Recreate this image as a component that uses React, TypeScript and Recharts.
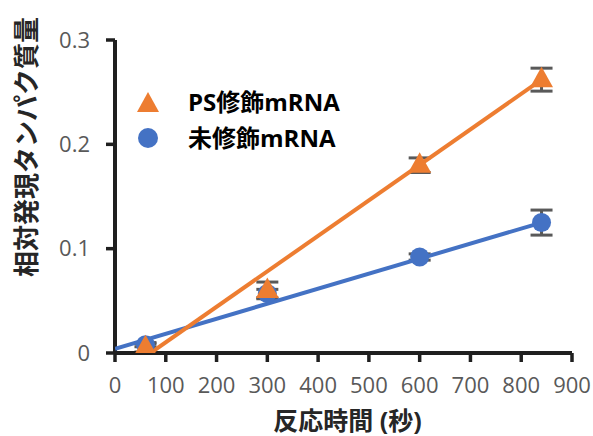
import React from "react";
import { ScatterChart, Scatter, XAxis, YAxis, ErrorBar, Label } from "recharts";

const times = [60, 300, 600, 840];
const psValues = [0.005, 0.06, 0.18, 0.262];
const psErrors = [0.004, 0.008, 0.007, 0.011];
const unmodValues = [0.008, 0.057, 0.092, 0.125];
const unmodErrors = [0.002, 0.004, 0.003, 0.012];
const psTrend = [
  { x: 70, y: 0 },
  { x: 840, y: 0.262 },
];
const unmodTrend = [
  { x: 0, y: 0.004 },
  { x: 840, y: 0.125 },
];
const xTicks = [0, 100, 200, 300, 400, 500, 600, 700, 800, 900];
const yTicks = [0, 0.1, 0.2, 0.3];
const psName = "PS修飾mRNA";
const unmodName = "未修飾mRNA";

const psData = times.map((t, i) => ({ x: t, y: psValues[i], err: psErrors[i] }));
const unmodData = times.map((t, i) => ({ x: t, y: unmodValues[i], err: unmodErrors[i] }));

const ORANGE = "#ED7D31";
const BLUE = "#4472C4";
const AXIS = "#1f1f1f";
const TICK_TEXT = "#595959";
const FONT = "'Open Sans', 'Noto Sans CJK JP', sans-serif";

const Triangle = (props: any) => {
  const { cx, cy } = props;
  if (cx == null || cy == null) return <g />;
  return (
    <polygon
      points={`${cx},${cy - 13} ${cx - 11.5},${cy + 7.5} ${cx + 11.5},${cy + 7.5}`}
      fill={ORANGE}
    />
  );
};

const Dot = (props: any) => {
  const { cx, cy } = props;
  if (cx == null || cy == null) return <g />;
  return <circle cx={cx} cy={cy} r={9.5} fill={BLUE} />;
};

const NoShape = () => <g />;

const LegendBox = () => (
  <div
    style={{
      position: "absolute",
      left: 136,
      top: 84,
      fontFamily: FONT,
      fontWeight: 700,
      fontSize: 24,
      color: "#000",
    }}
  >
    {[
      { name: psName, icon: "tri" },
      { name: unmodName, icon: "circ" },
    ].map((item) => (
      <div key={item.name} style={{ display: "flex", alignItems: "center", height: 36 }}>
        <svg width={24} height={24} style={{ display: "block" }}>
          {item.icon === "tri" ? (
            <polygon points="12,2 1,22 23,22" fill={ORANGE} />
          ) : (
            <circle cx={12} cy={12} r={10} fill={BLUE} />
          )}
        </svg>
        <span style={{ marginLeft: 28, whiteSpace: "nowrap", lineHeight: "36px" }}>{item.name}</span>
      </div>
    ))}
  </div>
);

export default function App() {
  return (
    <div style={{ position: "absolute", left: 0, top: 0, width: 593, height: 436, background: "#fff" }}>
      <ScatterChart
        width={593}
        height={436}
        margin={{ top: 40, right: 21, bottom: 0, left: 0 }}
        style={{ fontFamily: FONT }}
      >
        <XAxis
          type="number"
          dataKey="x"
          domain={[0, 900]}
          ticks={xTicks}
          interval={0}
          height={83}
          tickSize={9}
          tickMargin={15}
          axisLine={{ stroke: AXIS, strokeWidth: 4 }}
          tickLine={{ stroke: AXIS, strokeWidth: 3.5 }}
          tick={{ fill: TICK_TEXT, fontSize: 22, fontFamily: FONT }}
          allowDataOverflow
        >
          <Label
            content={(p: any) => {
              const vb = p.viewBox || {};
              return (
                <text
                  x={(vb.x ?? 115) + (vb.width ?? 457) / 2 + 4}
                  y={420}
                  textAnchor="middle"
                  dominantBaseline="central"
                  fontFamily={FONT}
                  fontWeight={700}
                  fontSize={25}
                  fill="#262626"
                >
                  反応時間 (秒)
                </text>
              );
            }}
          />
        </XAxis>
        <YAxis
          type="number"
          dataKey="y"
          domain={[0, 0.3]}
          ticks={yTicks}
          interval={0}
          width={115}
          tickSize={9}
          tickMargin={16}
          axisLine={{ stroke: AXIS, strokeWidth: 4 }}
          tickLine={{ stroke: AXIS, strokeWidth: 3.5 }}
          tick={{ fill: TICK_TEXT, fontSize: 22, fontFamily: FONT }}
          tickFormatter={(v: number) => (v === 0 ? "0" : String(v))}
          allowDataOverflow
        >
          <Label
            content={() => (
              <text
                x={26}
                y={147}
                textAnchor="middle"
                dominantBaseline="central"
                fontFamily={FONT}
                fontWeight={700}
                fontSize={26}
                fill="#262626"
                transform="rotate(-90 26 147)"
              >
                相対発現タンパク質量
              </text>
            )}
          />
        </YAxis>
        <Scatter
          data={unmodTrend}
          line={{ stroke: BLUE, strokeWidth: 4 }}
          shape={NoShape}
          isAnimationActive={false}
          legendType="none"
        />
        <Scatter
          data={psTrend}
          line={{ stroke: ORANGE, strokeWidth: 4 }}
          shape={NoShape}
          isAnimationActive={false}
          legendType="none"
        />
        <Scatter data={unmodData} shape={Dot} isAnimationActive={false} name={unmodName}>
          <ErrorBar dataKey="err" direction="y" width={11} stroke="#595959" strokeWidth={3} />
        </Scatter>
        <Scatter data={psData} shape={Triangle} isAnimationActive={false} name={psName}>
          <ErrorBar dataKey="err" direction="y" width={11} stroke="#595959" strokeWidth={3} />
        </Scatter>
      </ScatterChart>
      <LegendBox />
    </div>
  );
}
